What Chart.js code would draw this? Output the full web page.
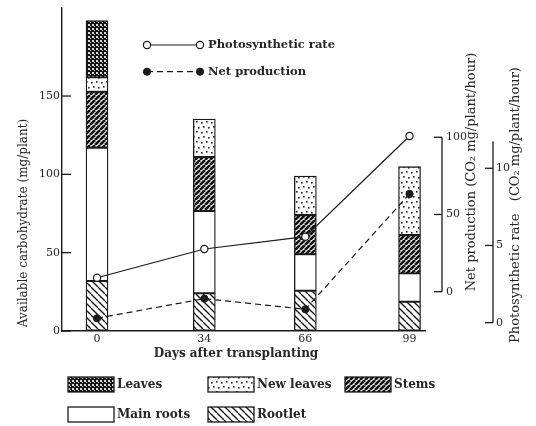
<!DOCTYPE html>
<html><head><meta charset="utf-8">
<script src="https://cdn.jsdelivr.net/npm/chart.js@4.4.1/dist/chart.umd.min.js"></script>
<style>html,body{margin:0;padding:0;background:#fff}#wrap{width:536px;height:426px}</style>
</head><body><div id="wrap"><canvas id="c" width="536" height="426"></canvas></div>
<script>
// ---- data ----
const days = [0, 34, 66, 99];
const rootlet = [31.9, 24.1, 25.7, 18.7];
const mainRoots = [85.1, 52.5, 23.3, 18.1];
const stems = [35.7, 34.5, 25.0, 24.5];
const newLeaves = [9.2, 24.2, 24.9, 43.6];
const leaves = [36.2, null, null, null];
const photoRate = [2.91, 4.77, 5.57, 12.09];
const netProduction = [-17.2, -4.5, -11.4, 63.3];
const leftTicks = [0, 50, 100, 150];
const netTicks = [0, 50, 100];
const photoTicks = [0, 5, 10];

const FONT = "'DejaVu Serif', 'Liberation Serif', serif";
const INK = '#1a1a1a';
const TXT = '#262626';

const canvas = document.getElementById('c');
const mainCtx = canvas.getContext('2d');
function makePattern(w, h, draw) {
  const c = document.createElement('canvas'); c.width = w; c.height = h;
  const g = c.getContext('2d'); draw(g, w, h);
  return mainCtx.createPattern(c, 'repeat');
}
const patLeaves = makePattern(4, 4, (g) => {
  g.fillStyle = '#151515'; g.fillRect(0, 0, 4, 4);
  g.fillStyle = '#d8d8d8'; g.fillRect(0, 0, 2, 2); g.fillRect(2, 2, 1, 1);
});
const patNew = makePattern(10, 10, (g) => {
  g.fillStyle = '#fff'; g.fillRect(0, 0, 10, 10);
  g.fillStyle = '#222';
  [[1,2],[6,1],[3,6],[8,7]].forEach(p => g.fillRect(p[0], p[1], 1.6, 1.6));
});
const patStems = makePattern(5, 5, (g) => {
  g.fillStyle = '#f4f4f4'; g.fillRect(0, 0, 5, 5);
  g.strokeStyle = '#111'; g.lineWidth = 2.6;
  for (let k = -5; k <= 10; k += 5) { g.beginPath(); g.moveTo(k, 5); g.lineTo(k + 5, 0); g.stroke(); }
});
const patRootlet = makePattern(7, 7, (g) => {
  g.fillStyle = '#fff'; g.fillRect(0, 0, 7, 7);
  g.strokeStyle = '#111'; g.lineWidth = 1.3;
  for (let k = -7; k <= 14; k += 7) { g.beginPath(); g.moveTo(k, 0); g.lineTo(k + 7, 7); g.stroke(); }
});

const pts = (arr) => days.map((d, i) => ({ x: d, y: arr[i] }));
const barBase = { type: 'bar', yAxisID: 'y', borderColor: INK, borderWidth: 1.3, borderSkipped: false, barThickness: 22, order: 2 };

const datasets = [
  Object.assign({ label: 'Rootlet', data: pts(rootlet), backgroundColor: patRootlet }, barBase),
  Object.assign({ label: 'Main roots', data: pts(mainRoots), backgroundColor: '#ffffff' }, barBase),
  Object.assign({ label: 'Stems', data: pts(stems), backgroundColor: patStems }, barBase),
  Object.assign({ label: 'New leaves', data: pts(newLeaves), backgroundColor: patNew }, barBase),
  Object.assign({ label: 'Leaves', data: pts(leaves), backgroundColor: patLeaves }, barBase),
  { type: 'line', label: 'Photosynthetic rate', yAxisID: 'yPhoto', data: pts(photoRate), borderColor: INK, borderWidth: 1.2,
    pointRadius: 3.6, pointBackgroundColor: '#fff', pointBorderColor: INK, pointBorderWidth: 1.2, tension: 0, order: 0 },
  { type: 'line', label: 'Net production', yAxisID: 'yNet', data: pts(netProduction), borderColor: INK, borderWidth: 1.2,
    borderDash: [6, 4], pointRadius: 3.6, pointBackgroundColor: INK, pointBorderColor: INK, pointBorderWidth: 1, tension: 0, order: 0 }
];

const legendBottom = [
  { label: 'Leaves', col: 0, row: 0 },
  { label: 'New leaves', col: 1, row: 0 },
  { label: 'Stems', col: 2, row: 0 },
  { label: 'Main roots', col: 0, row: 1 },
  { label: 'Rootlet', col: 1, row: 1 }
];

function seg(ctx, x1, y1, x2, y2) { ctx.beginPath(); ctx.moveTo(x1, y1); ctx.lineTo(x2, y2); ctx.stroke(); }
function vtext(ctx, text, cx, cy) {
  ctx.save(); ctx.translate(cx, cy); ctx.rotate(-Math.PI / 2);
  ctx.textAlign = 'center'; ctx.textBaseline = 'middle'; ctx.fillText(text, 0, 0); ctx.restore();
}

const decor = {
  id: 'decor',
  afterDraw(chart) {
    const ctx = chart.ctx;
    const { x, y, yNet, yPhoto } = chart.scales;
    ctx.save();
    ctx.strokeStyle = INK; ctx.lineWidth = 1.3; ctx.setLineDash([]);
    // left ticks pointing inward
    leftTicks.forEach(v => { const py = y.getPixelForValue(v); seg(ctx, y.right, py, y.right + 9, py); });
    // net production axis
    const nx = yNet.left + 17;
    seg(ctx, nx, yNet.getPixelForValue(netTicks[0]), nx, yNet.getPixelForValue(netTicks[netTicks.length - 1]));
    netTicks.forEach(v => { const py = yNet.getPixelForValue(v); seg(ctx, nx - 8, py, nx, py); });
    // photosynthetic axis
    const px = yPhoto.left + 13;
    seg(ctx, px, yPhoto.getPixelForValue(0), px, yPhoto.getPixelForValue(11.75));
    photoTicks.forEach(v => { const py = yPhoto.getPixelForValue(v); seg(ctx, px - 8, py, px, py); });

    // titles
    ctx.fillStyle = TXT;
    ctx.font = '12px ' + FONT;
    vtext(ctx, 'Available carbohydrate (mg/plant)', 24, 223);
    ctx.font = '13px ' + FONT;
    vtext(ctx, 'Net production (CO\u2082 mg/plant/hour)', 472, 172);
    vtext(ctx, 'Photosynthetic rate   (CO\u2082 mg/plant/hour)', 516, 205);
    ctx.font = 'bold 12px ' + FONT;
    ctx.textAlign = 'center'; ctx.textBaseline = 'middle';
    ctx.fillText('Days after transplanting', 236, 354);

    // top legend (lines)
    const lineSets = chart.data.datasets.filter(d => d.type === 'line');
    lineSets.forEach((d, i) => {
      const ly = 45 + i * 26.7;
      ctx.strokeStyle = d.borderColor; ctx.lineWidth = d.borderWidth;
      ctx.setLineDash(d.borderDash || []);
      seg(ctx, 147, ly, 200, ly);
      ctx.setLineDash([]);
      [147, 200].forEach(cx => {
        ctx.beginPath(); ctx.arc(cx, ly, d.pointRadius, 0, Math.PI * 2);
        ctx.fillStyle = d.pointBackgroundColor; ctx.fill();
        ctx.lineWidth = d.pointBorderWidth; ctx.strokeStyle = d.pointBorderColor; ctx.stroke();
      });
      ctx.fillStyle = TXT; ctx.textAlign = 'left'; ctx.textBaseline = 'middle';
      ctx.font = 'bold 11.5px ' + FONT;
      ctx.fillText(d.label, 208, ly);
    });

    // bottom legend (bars)
    const cols = [68, 208, 345], rows = [377, 407];
    ctx.font = 'bold 12px ' + FONT;
    legendBottom.forEach(item => {
      const d = chart.data.datasets.find(ds => ds.label === item.label);
      const bx = cols[item.col], by = rows[item.row];
      ctx.fillStyle = d.backgroundColor; ctx.fillRect(bx, by, 46, 15);
      ctx.strokeStyle = INK; ctx.lineWidth = 1.3; ctx.strokeRect(bx, by, 46, 15);
      ctx.fillStyle = TXT; ctx.textAlign = 'left'; ctx.textBaseline = 'middle';
      ctx.fillText(item.label, bx + 49, by + 8);
    });
    ctx.restore();
  }
};

const tickFont = { family: FONT, size: 11 };
const hiddenTicks = (len) => ({ drawOnChartArea: false, drawTicks: true, tickLength: len, color: 'rgba(0,0,0,0)', tickColor: 'rgba(0,0,0,0)' });
new Chart(canvas, {
  data: { datasets },
  options: {
    responsive: false, animation: false, devicePixelRatio: 1,
    layout: { padding: { top: 8, left: 0, right: 0, bottom: 0 } },
    plugins: { legend: { display: false }, tooltip: { enabled: false } },
    scales: {
      x: {
        type: 'linear', min: -11.09, max: 103.9, stacked: true, offset: false,
        afterBuildTicks: s => { s.ticks = days.map(v => ({ value: v })); },
        afterFit: s => { s.height = 95; },
        grid: hiddenTicks(2),
        border: { display: true, color: INK, width: 1.4 },
        ticks: { font: tickFont, color: TXT, padding: 0, maxRotation: 0, autoSkip: false }
      },
      y: {
        position: 'left', stacked: true, min: 0, max: 206.2,
        afterBuildTicks: s => { s.ticks = leftTicks.map(v => ({ value: v })); },
        afterFit: s => { s.width = 62; },
        grid: hiddenTicks(2),
        border: { display: true, color: INK, width: 1.4 },
        ticks: { font: tickFont, color: TXT, padding: 0 }
      },
      yNet: {
        position: 'right', weight: 1, min: -25.45, max: 183.7,
        afterBuildTicks: s => { s.ticks = netTicks.map(v => ({ value: v })); },
        afterFit: s => { s.width = 55; },
        grid: hiddenTicks(21),
        border: { display: false },
        ticks: { font: tickFont, color: TXT, padding: 0 }
      },
      yPhoto: {
        position: 'right', weight: 2, min: -0.54, max: 20.38,
        afterBuildTicks: s => { s.ticks = photoTicks.map(v => ({ value: v })); },
        afterFit: s => { s.width = 56; },
        grid: hiddenTicks(16),
        border: { display: false },
        ticks: { font: tickFont, color: TXT, padding: 0 }
      }
    }
  },
  plugins: [decor]
});
</script></body></html>
